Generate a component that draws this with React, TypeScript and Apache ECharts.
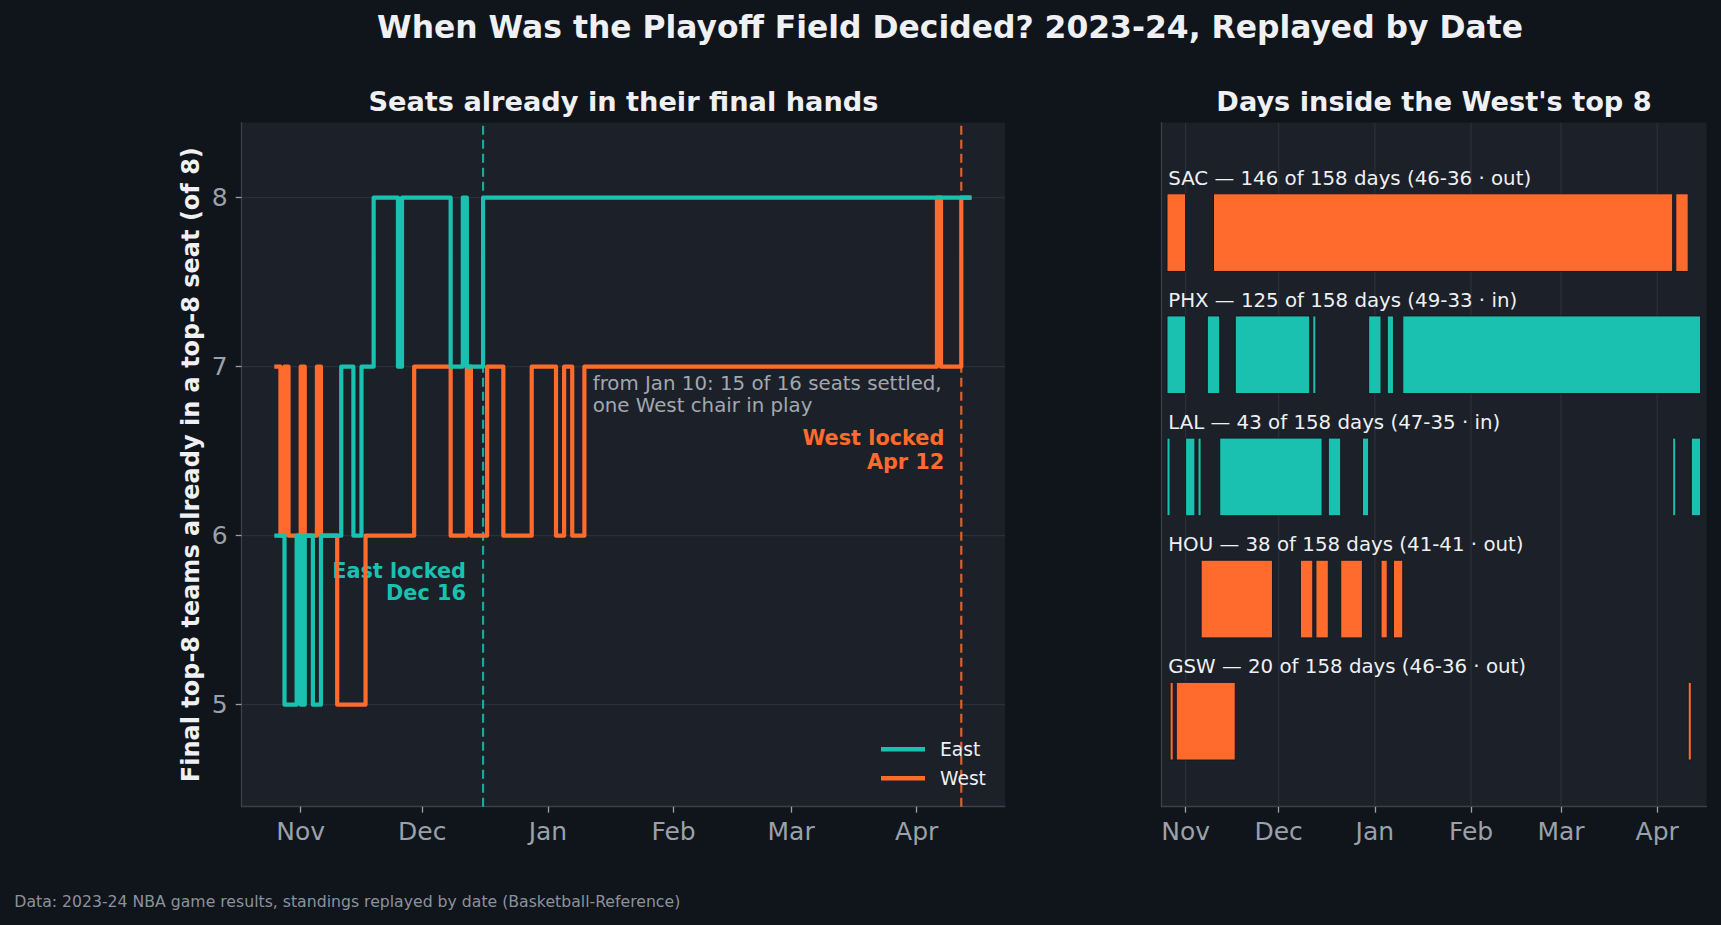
import { useEffect, useRef } from "react";
import * as echarts from "echarts";

// Day numbers count from 1 Nov 2023 (= day 0); 2024 is a leap year.
const MONTH_DAYS = [0, 30, 61, 92, 121, 152];
const MONTH_LABELS = ["Nov", "Dec", "Jan", "Feb", "Mar", "Apr"];
const SEAT_TICKS = [5, 6, 7, 8];

// Final top-8 teams already holding a top-8 seat, replayed day by day (value holds until the next day listed).
const EAST_DAYS = [-6, -4, -1, 0, 1, 3, 5, 10, 13, 15, 18, 24, 25, 37, 40, 41, 45, 165];
const EAST_SEATS = [6, 5, 6, 5, 6, 5, 6, 7, 6, 7, 8, 7, 8, 7, 8, 7, 8, 8];
const WEST_DAYS = [-6, -5, -4, -3, 0, 1, 4, 5, 9, 16, 28, 37, 41, 42, 46, 50, 57, 63, 65, 67, 70, 157, 158, 163, 165];
const WEST_SEATS = [7, 6, 7, 6, 7, 6, 7, 6, 5, 6, 7, 6, 7, 6, 7, 6, 7, 6, 7, 6, 7, 8, 7, 8, 8];

const EAST_LOCK_DAY = 45; // Dec 16
const WEST_LOCK_DAY = 163; // Apr 12

// West bubble teams: stretches of days spent inside the top 8 ([first day, day after last]).
const TEAMS = ["SAC", "PHX", "LAL", "HOU", "GSW"];
const DAYS_IN = [146, 125, 43, 38, 20];
const TOTAL_DAYS = 158;
const RECORDS = ["46-36", "49-33", "47-35", "41-41", "46-36"];
const FINISH = ["out", "in", "in", "out", "out"];
const SAC_SPANS = [[-6, 0], [9, 157], [158, 162]];
const PHX_SPANS = [[-6, 0], [7, 11], [16, 40], [41, 42], [59, 63], [65, 67], [70, 166]];
const LAL_SPANS = [[-6, -5], [0, 3], [4, 5], [11, 44], [46, 50], [57, 59], [157, 158], [163, 166]];
const HOU_SPANS = [[5, 28], [37, 41], [42, 46], [50, 57], [63, 65], [67, 70]];
const GSW_SPANS = [[-5, -4], [-3, 16], [162, 163]];
const TEAM_SPANS = [SAC_SPANS, PHX_SPANS, LAL_SPANS, HOU_SPANS, GSW_SPANS];

// Palette
const FIG_BG = "#10141b";
const AX_BG = "#1c2028";
const GRID = "#2a2f39";
const SPINE = "#3a404b";
const TEAL = "#1ac1b0";
const ORANGE = "#ff6b2c";
const TEXT = "#eef0f3";
const TICK_TEXT = "#9aa1ab";
const NOTE_TEXT = "#a2a8b0";
const FOOT_TEXT = "#8c929b";
const BAR_EDGE = "#15181e";
const FONT = "DejaVu Sans";

// Axis windows
const LEFT_X = [-14.56, 173.79];
const LEFT_Y = [4.396, 8.444];
const RIGHT_X = [-7.77, 167.9];
const RIGHT_Y = [-0.9, 4.7];
const BAR_HEIGHT = 0.636;
const LABEL_DAY = -5.6;
const LABEL_LIFT = 0.447;

function monthLabel(v: number) {
  const i = MONTH_DAYS.indexOf(Math.round(v));
  return i >= 0 ? MONTH_LABELS[i] : "";
}

function buildOption() {
  const eastData = EAST_DAYS.map((d, i) => [d, EAST_SEATS[i]]);
  const westData = WEST_DAYS.map((d, i) => [d, WEST_SEATS[i]]);

  const seatGrid = SEAT_TICKS.map((v) => ({
    type: "line",
    xAxisIndex: 0,
    yAxisIndex: 0,
    data: [[LEFT_X[0], v], [LEFT_X[1], v]],
    symbol: "none",
    silent: true,
    z: 1,
    lineStyle: { color: GRID, width: 1.3 },
  }));

  const lockLine = (day: number, color: string) => ({
    type: "line",
    xAxisIndex: 0,
    yAxisIndex: 0,
    data: [[day, LEFT_Y[0]], [day, LEFT_Y[1]]],
    symbol: "none",
    silent: true,
    z: 2,
    lineStyle: { color, width: 2.2, type: [9, 5], opacity: 0.85 },
  });

  const monthGrid = MONTH_DAYS.map((v) => ({
    type: "line",
    xAxisIndex: 1,
    yAxisIndex: 1,
    data: [[v, RIGHT_Y[0]], [v, RIGHT_Y[1]]],
    symbol: "none",
    silent: true,
    z: 1,
    lineStyle: { color: GRID, width: 1.3 },
  }));

  const barData: number[][] = [];
  TEAM_SPANS.forEach((spans, row) => spans.forEach(([s, e]) => barData.push([s, e, row])));

  const stepLine = (name: string, data: number[][], color: string, z: number) => ({
    name,
    type: "line",
    xAxisIndex: 0,
    yAxisIndex: 0,
    step: "end",
    data,
    symbol: "none",
    z,
    itemStyle: { color },
    lineStyle: { color, width: 4.2, cap: "square", join: "round" },
  });

  const axisLabelCommon = { color: TICK_TEXT, fontSize: 25, fontFamily: FONT };

  const text = (
    str: string,
    x: number,
    y: number,
    size: number,
    color: string,
    align: string,
    weight = "normal",
    rotation = 0
  ) => ({
    type: "text",
    x,
    y,
    rotation,
    silent: true,
    style: {
      text: str,
      fill: color,
      fontSize: size,
      fontWeight: weight,
      fontFamily: FONT,
      textAlign: align,
      textVerticalAlign: "middle",
      align,
      verticalAlign: "middle",
    },
  });

  return {
    animation: false,
    backgroundColor: FIG_BG,
    grid: [
      { left: 241.7, top: 122.7, width: 763.3, height: 684, show: true, backgroundColor: AX_BG, borderWidth: 0 },
      { left: 1161.5, top: 122.7, width: 545, height: 684, show: true, backgroundColor: AX_BG, borderWidth: 0 },
    ],
    xAxis: [
      {
        type: "value",
        gridIndex: 0,
        min: LEFT_X[0],
        max: LEFT_X[1],
        axisLine: { show: true, onZero: false, lineStyle: { color: SPINE, width: 1.3 } },
        axisTick: { show: true, customValues: MONTH_DAYS, length: 6, lineStyle: { color: TICK_TEXT, width: 1.3 } },
        axisLabel: { ...axisLabelCommon, customValues: MONTH_DAYS, margin: 12, formatter: monthLabel },
        splitLine: { show: false },
      },
      {
        type: "value",
        gridIndex: 1,
        min: RIGHT_X[0],
        max: RIGHT_X[1],
        axisLine: { show: true, onZero: false, lineStyle: { color: SPINE, width: 1.3 } },
        axisTick: { show: true, customValues: MONTH_DAYS, length: 6, lineStyle: { color: TICK_TEXT, width: 1.3 } },
        axisLabel: { ...axisLabelCommon, customValues: MONTH_DAYS, margin: 12, formatter: monthLabel },
        splitLine: { show: false },
      },
    ],
    yAxis: [
      {
        type: "value",
        gridIndex: 0,
        min: LEFT_Y[0],
        max: LEFT_Y[1],
        axisLine: { show: true, onZero: false, lineStyle: { color: SPINE, width: 1.3 } },
        axisTick: { show: true, customValues: SEAT_TICKS, length: 6, lineStyle: { color: TICK_TEXT, width: 1.3 } },
        axisLabel: { ...axisLabelCommon, customValues: SEAT_TICKS, margin: 14 },
        splitLine: { show: false },
      },
      {
        type: "value",
        gridIndex: 1,
        inverse: true,
        min: RIGHT_Y[0],
        max: RIGHT_Y[1],
        axisLine: { show: true, onZero: false, lineStyle: { color: SPINE, width: 1.3 } },
        axisTick: { show: false },
        axisLabel: { show: false },
        splitLine: { show: false },
      },
    ],
    legend: {
      data: ["East", "West"],
      orient: "vertical",
      left: 881,
      top: 738.3,
      padding: 0,
      itemGap: 7,
      itemWidth: 44,
      itemHeight: 4.5,
      icon: "rect",
      selectedMode: false,
      textStyle: { color: TEXT, fontSize: 18.7, fontFamily: FONT, lineHeight: 22, padding: [0, 0, 0, 10] },
    },
    series: [
      ...seatGrid,
      lockLine(EAST_LOCK_DAY, TEAL),
      lockLine(WEST_LOCK_DAY, ORANGE),
      stepLine("West", westData, ORANGE, 3),
      stepLine("East", eastData, TEAL, 4),
      ...monthGrid,
      {
        type: "custom",
        xAxisIndex: 1,
        yAxisIndex: 1,
        z: 3,
        silent: true,
        data: barData,
        encode: { x: [0, 1], y: 2 },
        renderItem: (_params: any, api: any) => {
          const row = api.value(2);
          const p0 = api.coord([api.value(0), row - BAR_HEIGHT / 2]);
          const p1 = api.coord([api.value(1), row + BAR_HEIGHT / 2]);
          return {
            type: "rect",
            shape: {
              x: p0[0],
              y: Math.min(p0[1], p1[1]),
              width: p1[0] - p0[0],
              height: Math.abs(p1[1] - p0[1]),
            },
            style: { fill: FINISH[row] === "in" ? TEAL : ORANGE, stroke: BAR_EDGE, lineWidth: 1 },
          };
        },
      },
      {
        type: "custom",
        xAxisIndex: 1,
        yAxisIndex: 1,
        z: 4,
        silent: true,
        data: TEAMS.map((_, i) => [LABEL_DAY, i]),
        encode: { x: 0, y: 1 },
        renderItem: (_params: any, api: any) => {
          const row = api.value(1);
          const p = api.coord([api.value(0), row - LABEL_LIFT]);
          const label = `${TEAMS[row]} — ${DAYS_IN[row]} of ${TOTAL_DAYS} days (${RECORDS[row]} · ${FINISH[row]})`;
          return {
            type: "text",
            x: p[0],
            y: p[1],
            style: {
              text: label,
              fill: TEXT,
              fontSize: 19.8,
              fontFamily: FONT,
              textAlign: "left",
              textVerticalAlign: "middle",
              align: "left",
              verticalAlign: "middle",
            },
          };
        },
      },
    ],
    graphic: [
      text("When Was the Playoff Field Decided? 2023-24, Replayed by Date", 950, 27.4, 31.4, TEXT, "center", "bold"),
      text("Seats already in their final hands", 623.4, 101, 27.2, TEXT, "center", "bold"),
      text("Days inside the West's top 8", 1434, 101, 27.2, TEXT, "center", "bold"),
      text("Final top-8 teams already in a top-8 seat (of 8)", 191, 464.7, 24, TEXT, "center", "bold", Math.PI / 2),
      text("from Jan 10: 15 of 16 seats settled,", 592.7, 383, 19.8, NOTE_TEXT, "left"),
      text("one West chair in play", 592.7, 405, 19.8, NOTE_TEXT, "left"),
      text("West locked", 944.3, 438.3, 20.8, ORANGE, "right", "bold"),
      text("Apr 12", 944.3, 461.5, 20.8, ORANGE, "right", "bold"),
      text("East locked", 466, 570.5, 20.8, TEAL, "right", "bold"),
      text("Dec 16", 466, 593.3, 20.8, TEAL, "right", "bold"),
      text(
        "Data: 2023-24 NBA game results, standings replayed by date (Basketball-Reference)",
        14.3,
        901,
        15.7,
        FOOT_TEXT,
        "left"
      ),
    ],
  };
}

export default function App() {
  const ref = useRef<HTMLDivElement>(null);

  useEffect(() => {
    document.body.style.margin = "0";
    document.body.style.background = FIG_BG;
    const chart = echarts.init(ref.current!, undefined, { renderer: "svg" });
    chart.setOption(buildOption() as any);
    return () => chart.dispose();
  }, []);

  return <div ref={ref} style={{ width: 1721, height: 925 }} />;
}
